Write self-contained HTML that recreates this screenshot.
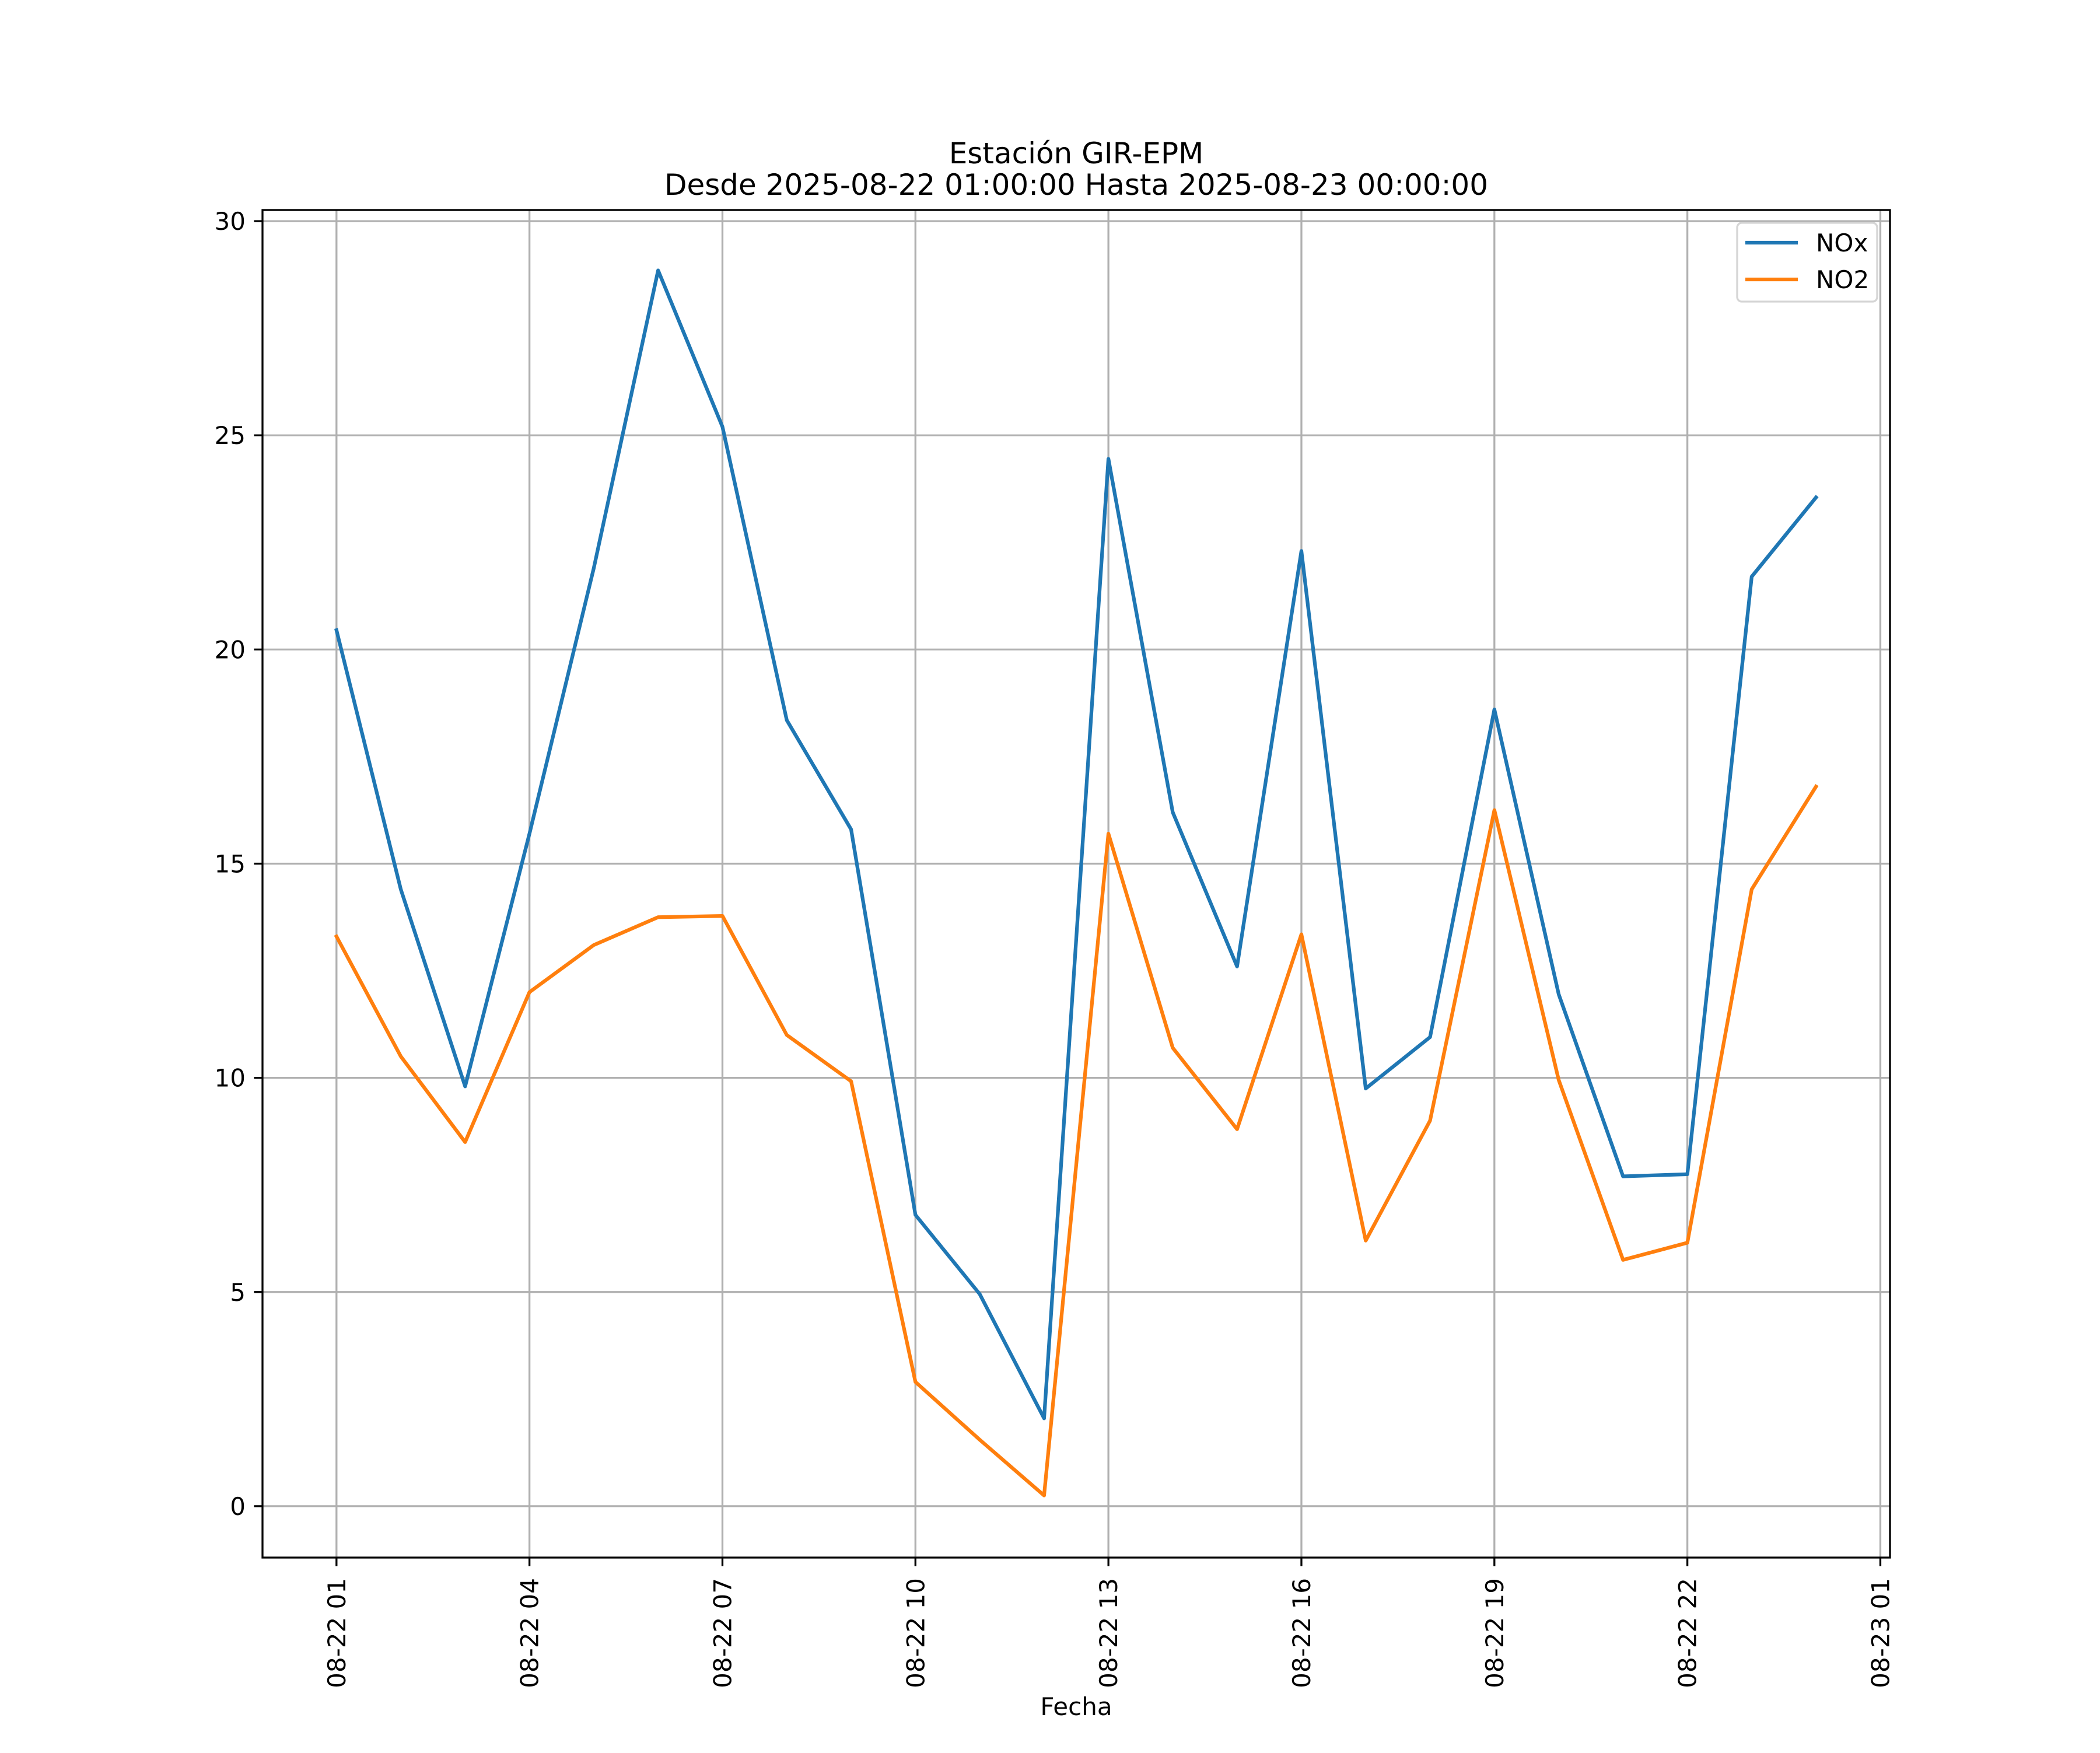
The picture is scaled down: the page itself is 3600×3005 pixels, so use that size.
<!DOCTYPE html>
<html><head><meta charset="utf-8"><style>
html,body{margin:0;padding:0;background:#fff}
svg text{font-family:"DejaVu Sans","Liberation Sans",sans-serif;fill:#000}
</style></head><body>
<svg id="chart" width="3600" height="3000" viewBox="0 0 3600 3000" xmlns="http://www.w3.org/2000/svg">
<rect width="3600" height="3000" fill="#fff"/>
<g id="grid"></g>
<g id="series"></g>
<rect x="450" y="360" width="2790" height="2310" fill="none" stroke="#000" stroke-width="3.3"/>
<g id="ticks"></g>
<text x="1845" y="280" font-size="50" text-anchor="middle">Estación GIR-EPM</text>
<text x="1845" y="334" font-size="50" text-anchor="middle">Desde 2025-08-22 01:00:00 Hasta 2025-08-23 00:00:00</text>
<text x="1845" y="2940" font-size="42" text-anchor="middle">Fecha</text>
<g>
<rect x="2978" y="382" width="240" height="135" rx="8" fill="#fff" fill-opacity="0.8" stroke="#d5d5d5" stroke-width="3.3"/>
<line x1="2992" y1="416" x2="3082" y2="416" stroke="#1f77b4" stroke-width="6.25"/>
<text x="3113" y="431" font-size="42">NOx</text>
<line x1="2992" y1="479" x2="3082" y2="479" stroke="#ff7f0e" stroke-width="6.25"/>
<text x="3113" y="494" font-size="42">NO2</text>
</g>
</svg>
<script>
const hours = [0,1,2,3,4,5,6,7,8,9,10,11,12,13,14,15,16,17,18,19,20,21,22,23];
const noxValues = [20.45,14.4,9.8,15.7,21.9,28.85,25.2,18.35,15.8,6.8,4.95,2.05,24.45,16.2,12.6,22.3,9.75,10.95,18.6,11.95,7.7,7.75,21.7,23.55];
const no2Values = [13.3,10.5,8.5,12.0,13.1,13.75,13.78,11.0,9.92,2.9,1.55,0.25,15.7,10.7,8.8,13.35,6.2,9.0,16.25,9.95,5.75,6.15,14.4,16.8];
const xTickHours = [0,3,6,9,12,15,18,21,24];
const xTickLabels = ["08-22 01","08-22 04","08-22 07","08-22 10","08-22 13","08-22 16","08-22 19","08-22 22","08-23 01"];
const yTicks = [0,5,10,15,20,25,30];

const NS="http://www.w3.org/2000/svg";
const L=450,R=3240,T=360,B=2670;
const xMin=-1.15,xMax=24.15,yMin=-1.2,yMax=30.26;
const sx=h=>L+(h-xMin)/(xMax-xMin)*(R-L);
const sy=v=>B-(v-yMin)/(yMax-yMin)*(B-T);
function mk(tag,attrs,parent){const e=document.createElementNS(NS,tag);for(const k in attrs)e.setAttribute(k,attrs[k]);parent.appendChild(e);return e;}
const grid=document.getElementById('grid'),ticks=document.getElementById('ticks'),series=document.getElementById('series');
xTickHours.forEach((h,i)=>{
  const x=sx(h);
  const g=mk('line',{x1:x,x2:x,y1:T,y2:B,stroke:'#b0b0b0','stroke-width':3.3},grid);
  
  
  const t=mk('line',{x1:x,x2:x,y1:B,y2:B+14.6,stroke:'#000','stroke-width':3.3},ticks);
  
  
  const lb=mk('text',{x:0,y:0,'font-size':42,'text-anchor':'end',transform:`translate(${x+15},${B+35}) rotate(-90)`},ticks);
  lb.textContent=xTickLabels[i];
  
  
});
yTicks.forEach(v=>{
  const y=sy(v);
  const g=mk('line',{x1:L,x2:R,y1:y,y2:y,stroke:'#b0b0b0','stroke-width':3.3},grid);
  
  
  const t=mk('line',{x1:L-14.6,x2:L,y1:y,y2:y,stroke:'#000','stroke-width':3.3},ticks);
  
  
  const lb=mk('text',{x:L-29,y:y+15,'font-size':42,'text-anchor':'end'},ticks);
  lb.textContent=String(v);
  
  
});
function line(vals,color,name){
  const pts=vals.map((v,i)=>sx(hours[i])+','+sy(v)).join(' ');
  const p=mk('polyline',{points:pts,fill:'none',stroke:color,'stroke-width':6.25,'stroke-linejoin':'round','stroke-linecap':'square'},series);
  
  
}
line(noxValues,'#1f77b4','nox-line');
line(no2Values,'#ff7f0e','no2-line');
</script>
</body></html>
